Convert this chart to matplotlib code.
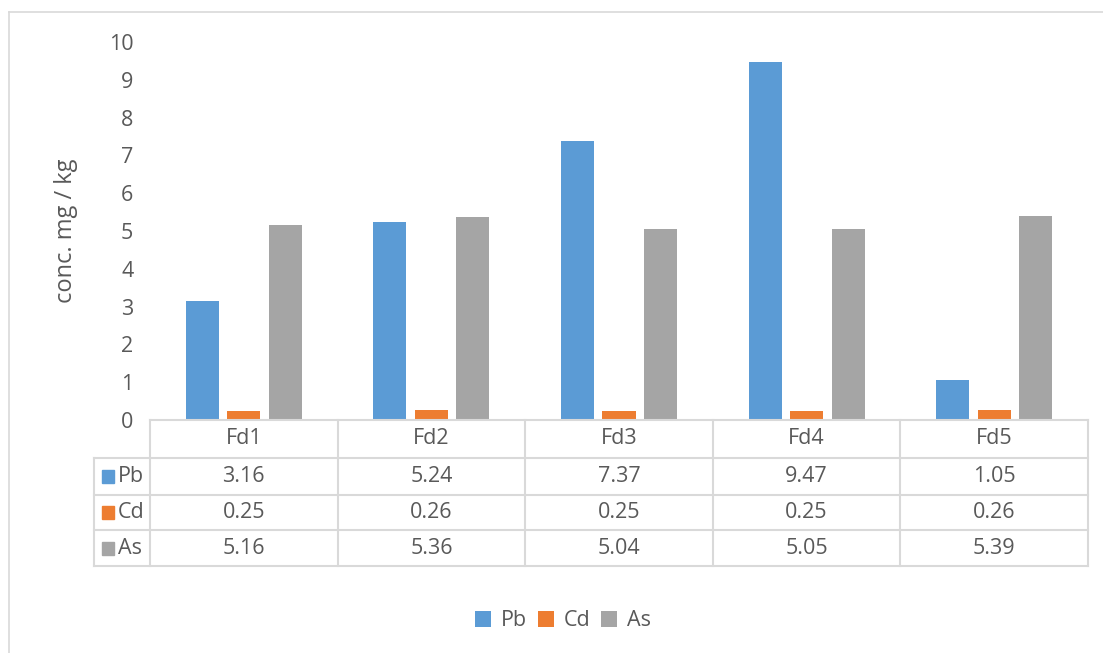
import numpy as np
import matplotlib
matplotlib.use("Agg")
import matplotlib.pyplot as plt
from matplotlib.lines import Line2D
from matplotlib.patches import Rectangle
from matplotlib.transforms import blended_transform_factory

# 데이터
categories = ["Fd1", "Fd2", "Fd3", "Fd4", "Fd5"]
series_names = ["Pb", "Cd", "As"]
pb = [3.16, 5.24, 7.37, 9.47, 1.05]
cd = [0.25, 0.26, 0.25, 0.25, 0.26]
as_ = [5.16, 5.36, 5.04, 5.05, 5.39]
colors = ["#5B9BD5", "#ED7D31", "#A5A5A5"]

plt.rcParams['font.family'] = ['Open Sans', 'DejaVu Sans']
TXT = "#595959"
GRID = "#D9D9D9"
FS = 15.5

W, H = 1103, 653
fig = plt.figure(figsize=(W / 100, H / 100), dpi=100)

def fx(px):
    return px / W

def fy(py):
    return 1 - py / H

# 바깥 테두리 (위, 왼쪽)
fig.add_artist(Line2D([fx(9), 1], [fy(12), fy(12)], color=GRID, lw=1.2))
fig.add_artist(Line2D([fx(9), fx(9)], [fy(12), 0], color=GRID, lw=1.2))

# 그래프 영역
left, right, top, base = 150, 1088, 42, 420
ax = fig.add_axes([fx(left), fy(base), fx(right - left), (base - top) / H])
x = np.arange(len(categories))
width = 0.176
step = 0.221
for i, vals in enumerate([pb, cd, as_]):
    ax.bar(x + (i - 1) * step, vals, width, color=colors[i], label=series_names[i])
ax.set_xlim(-0.5, len(categories) - 0.5)
ax.set_ylim(0, 10)
ax.set_yticks(range(0, 11))
ax.tick_params(axis='y', length=0, pad=12, labelsize=FS, labelcolor=TXT)
ax.tick_params(axis='x', length=0, labelbottom=False)
for s in ax.spines.values():
    s.set_visible(False)
ax.set_ylabel("conc. mg / kg", fontsize=17, color=TXT, labelpad=22)

# 데이터 표
tr = blended_transform_factory(ax.transData, fig.transFigure)
rows = [base, 458, 495, 530, 566]
lw = 1.5
# 가로선
fig.add_artist(Line2D([fx(left), fx(right)], [fy(rows[0])] * 2, color=GRID, lw=lw))
for r in rows[1:]:
    fig.add_artist(Line2D([fx(94), fx(right)], [fy(r)] * 2, color=GRID, lw=lw))
# 세로선
fig.add_artist(Line2D([fx(94), fx(94)], [fy(rows[1]), fy(rows[-1])], color=GRID, lw=lw))
for b in np.arange(len(categories) + 1) - 0.5:
    fig.add_artist(Line2D([b, b], [fy(rows[0]), fy(rows[-1])], color=GRID, lw=lw,
                          transform=tr))

# 표 내용
for j, c in enumerate(categories):
    fig.text(j, fy((rows[0] + rows[1]) / 2), c, transform=tr, ha='center',
             va='center', fontsize=FS, color=TXT)
for i, (name, vals) in enumerate(zip(series_names, [pb, cd, as_])):
    yc = fy((rows[i + 1] + rows[i + 2]) / 2)
    fig.add_artist(Rectangle((fx(102), yc - 6.5 / H), 12 / W, 13 / H, color=colors[i]))
    fig.text(fx(118), yc, name, ha='left', va='center', fontsize=FS, color=TXT)
    for j, v in enumerate(vals):
        fig.text(j, yc, f"{v:.2f}", transform=tr, ha='center', va='center',
                 fontsize=FS, color=TXT)

# 범례
ax.legend(loc='center', bbox_to_anchor=(fx(563), fy(621)),
          bbox_transform=fig.transFigure, ncol=3, frameon=False, fontsize=FS,
          labelcolor=TXT, handlelength=0.75, handleheight=0.75, handletextpad=0.45,
          columnspacing=0.5)

fig.savefig("out.png", dpi=100)
